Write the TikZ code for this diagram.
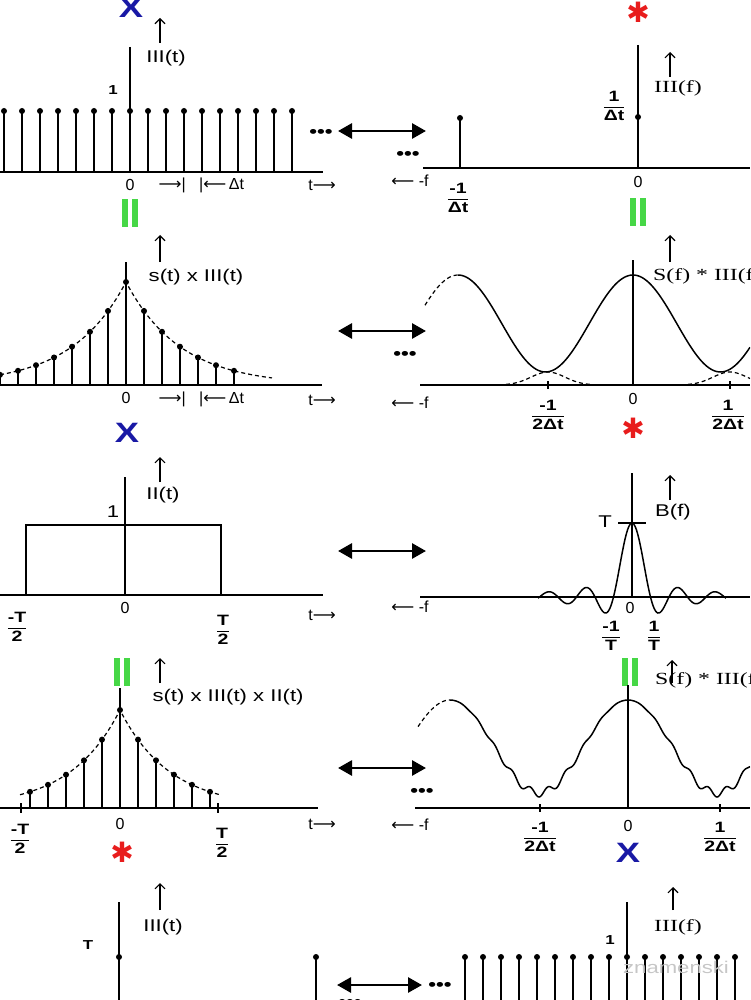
\documentclass[tikz,border=0pt]{standalone}
\usepackage{amsmath}
\usepackage{fontspec}
\setmainfont[FakeStretch=1.3]{Liberation Sans}
\newfontfamily\plainsans{Liberation Sans}
\newfontfamily\serlbl[FakeStretch=1.4]{Liberation Serif}
\newfontfamily\symfont{DejaVu Sans}
\usetikzlibrary{arrows.meta}
\definecolor{eqgreen}{RGB}{70,215,70}
\definecolor{xblue}{RGB}{25,25,165}
\definecolor{starred}{RGB}{232,28,28}
\newcommand{\frc}[2]{$\dfrac{\text{\bfseries #1}}{\text{\bfseries #2}}$}
\newcommand{\ra}{{\symfont ⟶}}
\newcommand{\la}{{\symfont ⟵}}
\tikzset{
  >=Stealth,
  every node/.style={inner sep=0pt},
  equal/.pic={\fill[eqgreen] (-8,-14) rectangle (-2,14); \fill[eqgreen] (2,-14) rectangle (8,14);},
}

\begin{document}
\begin{tikzpicture}[
  x=1pt, y=-1pt,
  lbl/.style={font=\fontsize{17}{17}\selectfont},
  slbl/.style={font=\fontsize{17}{17}\selectfont\serlbl},
  numlbl/.style={font=\fontsize{16}{16}\selectfont\plainsans},
  fr/.style={font=\fontsize{15}{15}\selectfont},
  unit/.style={font=\fontsize{13}{13}\selectfont\bfseries},
  xsign/.style={text=xblue, font=\fontsize{28}{28}\selectfont\bfseries},
  starsign/.style={text=starred, font=\fontsize{28}{28}\selectfont\symfont},
  ellip/.style={font=\fontsize{17}{17}\selectfont\bfseries},
  axisline/.style={line width=1.3pt},
  zeroline/.style={line width=1.7pt},
  stem/.style={line width=1.4pt},
  sigline/.style={line width=1.5pt},
  envline/.style={line width=1.2pt, dash pattern=on 4pt off 3pt},
  upar/.style={-{Straight Barb[length=5pt,width=10pt]}, line width=1.1pt},
  dualarr/.style={{Triangle[length=14pt,width=15pt]}-{Triangle[length=14pt,width=15pt]}, line width=2.8pt}
]
\useasboundingbox (0,0) rectangle (750,1000);
\clip (0,0) rectangle (750,1000);

\node[xsign] (x1) at (131,8) {X};
\draw[upar] (160,43) -- (160,18);
\node[lbl] (lt1) at (166,58) {III(t)};
\node[unit] (one1) at (113,90) {1};
\draw[axisline] (0,172) -- (323,172);
\foreach \k in {-7,...,9}{
  \draw[stem] ({130+18*\k},172) -- ({130+18*\k},111);
  \fill ({130+18*\k},111) circle[radius=3pt];
}
\draw[zeroline] (130,47) -- (130,172);
\node[numlbl] (o1) at (130,185) {0};
\node[numlbl,anchor=east] (dl1) at (186,185) {\ra|};
\node[numlbl,anchor=west] (dr1) at (199,185) {|\la\,Δt};
\node[numlbl] (t1) at (322,185) {t\ra};
\node[ellip] (e1) at (321,133) {•••};
\coordinate (l1) at (338,131);
\coordinate (r1) at (426,131);
\draw[dualarr] (l1) -- (r1);
\pic at (130,213) {equal};

\node[starsign] (s1) at (638,12) {✱};
\node[ellip] (e2) at (408,155) {•••};
\draw[axisline] (423,168) -- (750,168);
\draw[stem] (460,168) -- (460,118);
\fill (460,118) circle[radius=3pt];
\draw[zeroline] (638,45) -- (638,168);
\fill (638,117) circle[radius=3pt];
\draw[upar] (670,77) -- (670,52);
\node[slbl] (lf1) at (678,88) {III(f)};
\node[fr] (f1) at (614,106) {\frc{1}{Δt}};
\node[numlbl] (mf1) at (410,181) {\la\ -f};
\node[fr] (f2) at (458,198) {\frc{-1}{Δt}};
\node[numlbl] (o2) at (638,182) {0};
\pic at (638,212) {equal};

\draw[upar] (160,262) -- (160,235);
\node[lbl] (lt2) at (196,277) {s(t) x III(t)};
\draw[envline] plot[domain=0:272,samples=137] (\x,{385-103*exp(-0.33*abs(\x-126)/18)});
\foreach \k in {-7,...,6}{
  \pgfmathsetmacro\h{385-103*exp(-0.33*abs(\k))}
  \draw[stem] ({126+18*\k},385) -- ({126+18*\k},\h);
  \fill ({126+18*\k},\h) circle[radius=3pt];
}
\draw[axisline] (0,385) -- (322,385);
\draw[zeroline] (126,262) -- (126,385);
\node[numlbl] (o3) at (126,398) {0};
\node[numlbl,anchor=east] (dl2) at (186,399) {\ra|};
\node[numlbl,anchor=west] (dr2) at (199,399) {|\la\,Δt};
\node[numlbl] (t2) at (322,400) {t\ra};
\node[xsign] (x2) at (127,433) {X};
\coordinate (l2) at (338,331);
\coordinate (r2) at (426,331);
\draw[dualarr] (l2) -- (r2);

\node[ellip] (e3) at (405,355) {•••};
\draw[axisline] (420,385) -- (750,385);
\draw[envline] plot[domain=492:604,samples=40] (\x,{385-13*exp(-((\x-548)/24)^2)});
\draw[envline] plot[domain=674:750,samples=30] (\x,{385-13*exp(-((\x-730)/24)^2)});
\draw[envline] plot[domain=425:458,samples=15] (\x,{372-48.5*(1+cos((\x-633)*2.0571))});
\draw[sigline] plot[domain=458:750,samples=150] (\x,{372-48.5*(1+cos((\x-633)*2.0571))});
\draw[zeroline] (633,260) -- (633,385);
\draw[axisline] (548,381) -- (548,389) (730,381) -- (730,389);
\draw[upar] (670,262) -- (670,235);
\node[slbl,anchor=west] (lf2) at (653,276) {S(f) * III(f)};
\node[numlbl] (mf2) at (410,403) {\la\ -f};
\node[fr] (f3) at (548,415) {\frc{-1}{2Δt}};
\node[numlbl] (o4) at (633,399) {0};
\node[fr] (f4) at (728,415) {\frc{1}{2Δt}};
\node[starsign] (s2) at (633,428) {✱};

\draw[upar] (160,482) -- (160,457);
\node[lbl] (lt3) at (163,495) {II(t)};
\draw[axisline] (0,595) -- (323,595);
\draw[sigline] (26,595) -- (26,525) -- (221,525) -- (221,595);
\draw[zeroline] (125,477) -- (125,595);
\node[lbl] (one3) at (113,512) {1};
\node[numlbl] (o5) at (125,608) {0};
\node[fr] (f5) at (17,627) {\frc{-T}{2}};
\node[fr] (f6) at (223,630) {\frc{T}{2}};
\node[numlbl] (t3) at (322,615) {t\ra};
\coordinate (l3) at (338,551);
\coordinate (r3) at (426,551);
\draw[dualarr] (l3) -- (r3);

\draw[axisline] (420,597) -- (750,597);
\draw[sigline] plot[domain=538:726,samples=150] (\x,{597-74*sin((\x-631.99)*9.7297)/(pi*(\x-631.99)/18.5)});
\draw[zeroline] (632,473) -- (632,597);
\draw[axisline] (618,523) -- (646,523);
\node[lbl] (tt) at (605,522) {T};
\draw[upar] (670,500) -- (670,475);
\node[lbl] (lb) at (673,512) {B(f)};
\node[numlbl] (o6) at (630,608) {0};
\node[fr] (f7) at (611,636) {\frc{-1}{T}};
\node[fr] (f8) at (654,636) {\frc{1}{T}};
\node[numlbl] (mf3) at (410,607) {\la\ -f};

\pic at (122,672) {equal};
\draw[upar] (160,683) -- (160,658);
\node[lbl] (lt4) at (228,697) {s(t) x III(t) x II(t)};
\draw[envline] plot[domain=20:220,samples=101] (\x,{808-98*exp(-0.36*abs(\x-120)/18)});
\foreach \k in {-5,...,5}{
  \pgfmathsetmacro\h{808-98*exp(-0.36*abs(\k))}
  \draw[stem] ({120+18*\k},808) -- ({120+18*\k},\h);
  \fill ({120+18*\k},\h) circle[radius=3pt];
}
\draw[axisline] (0,808) -- (318,808) (21,803) -- (21,813) (218,803) -- (218,813);
\draw[zeroline] (120,688) -- (120,808);
\node[numlbl] (o7) at (120,824) {0};
\node[fr] (f9) at (20,839) {\frc{-T}{2}};
\node[fr] (f10) at (222,843) {\frc{T}{2}};
\node[starsign] (s3) at (122,852) {✱};
\node[numlbl] (t4) at (322,824) {t\ra};
\coordinate (l4) at (338,768);
\coordinate (r4) at (426,768);
\draw[dualarr] (l4) -- (r4);

\node[ellip] (e4) at (422,792) {•••};
\draw[axisline] (415,808) -- (750,808);
\pic at (630,672) {equal};
\draw[upar] (672,683) -- (672,660);
\node[slbl,anchor=west] (lf3) at (655,680) {S(f) * III(f)};
\draw[envline] plot[domain=418:450,samples=15] (\x,{793-46.5*(1+cos((\x-628)*2.0225))});
\draw[sigline] plot[domain=450:750,samples=300] (\x,{793-46.5*(1+cos((\x-628)*2.0225))+2*(1-cos((\x-628)*2.0225))*cos((\x-628)*20.225)});
\draw[zeroline] (628,685) -- (628,808);
\draw[axisline] (540,804) -- (540,812) (720,804) -- (720,812);
\node[numlbl] (mf4) at (410,825) {\la\ -f};
\node[fr] (f11) at (540,837) {\frc{-1}{2Δt}};
\node[numlbl] (o8) at (628,826) {0};
\node[fr] (f12) at (720,837) {\frc{1}{2Δt}};
\node[xsign] (x3) at (628,853) {X};

\draw[upar] (160,910) -- (160,883);
\node[lbl] (lt5) at (163,927) {III(t)};
\draw[zeroline] (119,902) -- (119,1000);
\fill (119,957) circle[radius=3pt];
\node[unit] (tl) at (88,945) {T};
\draw[stem] (316,1000) -- (316,957);
\fill (316,957) circle[radius=3pt];
\coordinate (l5) at (337,985);
\coordinate (r5) at (422,985);
\draw[dualarr] (l5) -- (r5);
\node[ellip] (e5) at (440,986) {•••};
\node[ellip] (e6) at (350,1003) {•••};
\draw[upar] (673,910) -- (673,887);
\node[slbl] (lf4) at (678,927) {III(f)};
\node[unit] (one5) at (610,940) {1};
\foreach \k in {-9,...,6}{
  \draw[stem] ({627+18*\k},1000) -- ({627+18*\k},957);
  \fill ({627+18*\k},957) circle[radius=3pt];
}
\draw[zeroline] (627,902) -- (627,1000);
\node[text=gray!45, font=\fontsize{17}{17}\selectfont] (wm) at (676,967) {znamenski};
\end{tikzpicture}
\end{document}
